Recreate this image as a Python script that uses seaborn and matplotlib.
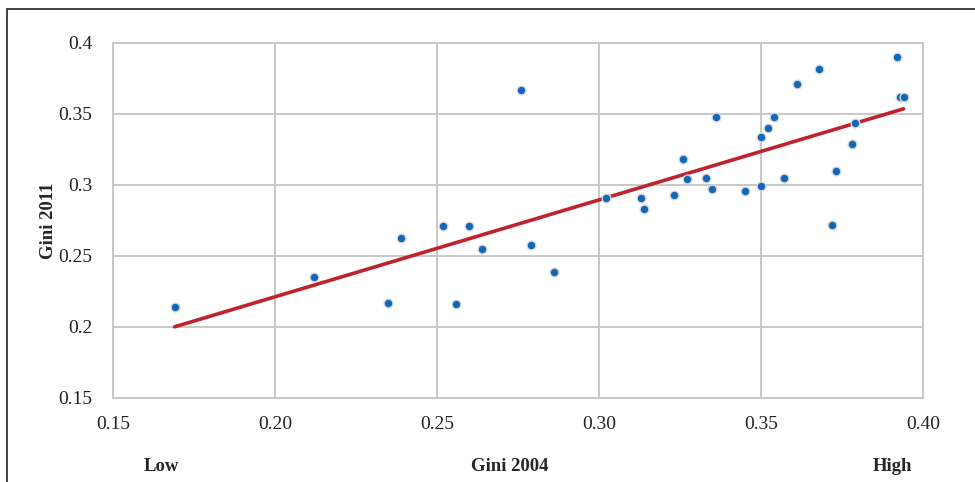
import numpy as np
import pandas as pd
import matplotlib.pyplot as plt
import seaborn as sns
from matplotlib.patches import Rectangle
from matplotlib.ticker import FuncFormatter

# Gini values
gini_2004 = [0.169, 0.212, 0.235, 0.239, 0.252, 0.260, 0.256, 0.264, 0.276, 0.279,
             0.286, 0.302, 0.313, 0.314, 0.323, 0.326, 0.327, 0.333, 0.335, 0.336,
             0.345, 0.350, 0.350, 0.352, 0.354, 0.357, 0.361, 0.373, 0.372, 0.378,
             0.379, 0.368, 0.392, 0.393, 0.394]
gini_2011 = [0.214, 0.235, 0.217, 0.263, 0.271, 0.271, 0.216, 0.255, 0.367, 0.258,
             0.239, 0.291, 0.291, 0.283, 0.293, 0.318, 0.304, 0.305, 0.297, 0.348,
             0.296, 0.299, 0.334, 0.340, 0.348, 0.305, 0.371, 0.310, 0.272, 0.329,
             0.344, 0.382, 0.390, 0.362, 0.362]
x_ticks = [0.15, 0.20, 0.25, 0.30, 0.35, 0.40]
y_ticks = [0.15, 0.2, 0.25, 0.3, 0.35, 0.4]

df = pd.DataFrame({"g2004": gini_2004, "g2011": gini_2011})

sns.set_style("white")
plt.rcParams['font.family'] = ['Liberation Serif', 'DejaVu Serif']

fig = plt.figure(figsize=(9.75, 4.82), dpi=100)
ax = fig.add_axes([0.1159, 0.1743, 0.8308, 0.7365])

sns.regplot(data=df, x="g2004", y="g2011", ax=ax, ci=None, truncate=True,
            scatter_kws=dict(s=40, color="#1168b8", alpha=1, edgecolors="#d8d8d8",
                             linewidths=1.0, zorder=3),
            line_kws=dict(color="#c0232b", lw=2.6, zorder=2))

ax.set_xlim(0.15, 0.40)
ax.set_ylim(0.15, 0.40)
ax.set_xticks(x_ticks)
ax.set_yticks(y_ticks)
ax.xaxis.set_major_formatter(FuncFormatter(lambda v, p: f"{v:.2f}"))
ax.yaxis.set_major_formatter(FuncFormatter(lambda v, p: f"{v:g}"))
ax.grid(True, color="#c8c8c8", lw=1.4)
ax.set_axisbelow(True)
for s in ax.spines.values():
    s.set_color("#c8c8c8")
    s.set_linewidth(1.4)
ax.tick_params(axis="both", length=0, labelsize=14, colors="#222222")
ax.tick_params(axis="x", pad=13)
ax.tick_params(axis="y", pad=15)

ax.set_xlabel("")
ax.set_ylabel("Gini 2011", fontsize=13.5, fontweight="bold", labelpad=1)
fig.text(0.523, 0.022, "Gini 2004", fontsize=13.5, fontweight="bold", ha="center")
fig.text(0.166, 0.022, "Low", fontsize=13.5, fontweight="bold", ha="center")
fig.text(0.915, 0.022, "High", fontsize=13.5, fontweight="bold", ha="center")

fig.patches.append(Rectangle((0.007, -0.2), 1.5, 0.981 + 0.2, transform=fig.transFigure,
                             fill=False, ec="#333333", lw=1.3))

fig.savefig("out.png", dpi=100, facecolor="white")
